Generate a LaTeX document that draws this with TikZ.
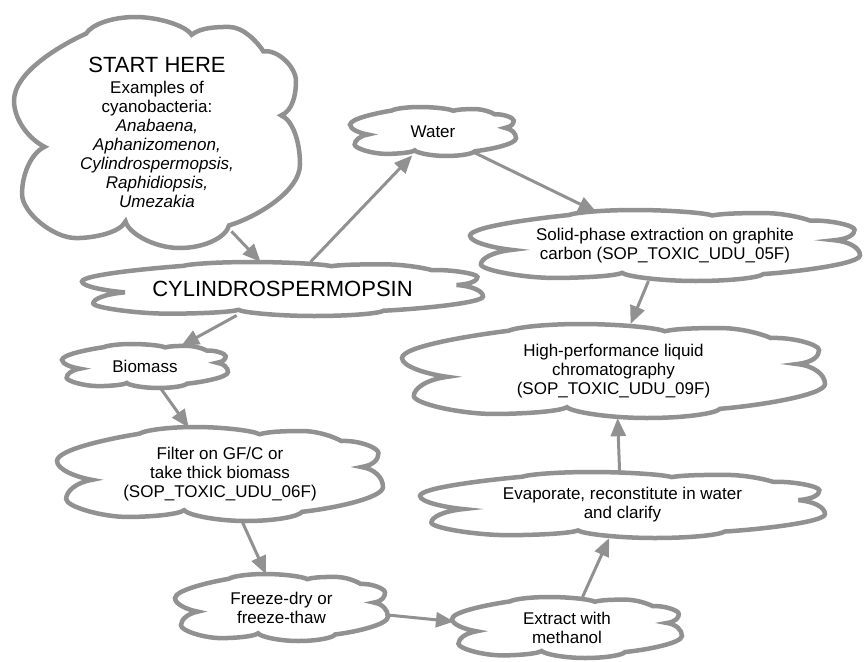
\documentclass[tikz,border=0pt]{standalone}
\usepackage{fontspec}
\setmainfont{Liberation Sans}
\usetikzlibrary{shapes.geometric,arrows.meta}
\definecolor{outline}{RGB}{145,145,145}

% Seven-puff cloud outline in a 100 x 100 box (y pointing down),
% drawn clockwise from the notch on the left side
\newcommand\cloudoutline{(10.7,56.2)
  .. controls (5.7,53.2) and (0,45) .. (0,36.2)
  .. controls (0,24) and (16.2,12.2) .. (25.2,7.2)
  .. controls (27.2,3.2) and (34.4,0) .. (42.4,0)
  .. controls (50.4,0) and (60.1,3.7) .. (62.1,7.7)
  .. controls (65.1,4.7) and (70.2,4.3) .. (75.2,4.3)
  .. controls (80.2,4.3) and (85.2,10.9) .. (87.2,14.9)
  .. controls (92.2,13.9) and (98.6,21.7) .. (98.6,27.7)
  .. controls (98.6,33.7) and (97.4,40.6) .. (93.4,42.6)
  .. controls (97.4,44.6) and (100,53.8) .. (100,63.8)
  .. controls (100,75.8) and (84,87) .. (75.2,90.2)
  .. controls (74.2,95.2) and (66.9,100) .. (57.9,100)
  .. controls (48.9,100) and (40,93.5) .. (39,88.5)
  .. controls (37,93.5) and (27.7,95.7) .. (21.7,95.7)
  .. controls (13.7,95.7) and (2.8,84.6) .. (2.8,76.6)
  .. controls (2.8,68.6) and (5.7,59.2) .. (10.7,56.2) -- cycle}

% \cloudnode{name}{left}{top}{width}{height}{text}: the outline stretched
% to the box, and an invisible elliptic node carrying text and anchors
\newcommand\cloudnode[6]{%
  \draw[cloudline, shift={({#2+2},{#3+2})}, xscale={(#4-4)/100},
    yscale={(#5-4)/100}] \cloudoutline;
  \pgfmathsetmacro\cbw{#4-4}%
  \pgfmathsetmacro\cbh{#5-4}%
  \node[textbox, minimum width=\cbw pt, minimum height=\cbh pt]
    (#1) at ({#2+#4/2},{#3+#5/2}) {#6};
}

\begin{document}
\begin{tikzpicture}[x=1pt,y=-1pt,
  cloudline/.style={draw=outline, line width=4.5pt, fill=white},
  textbox/.style={ellipse, inner sep=0pt, align=center,
    font=\fontsize{17}{19}\selectfont},
  link/.style={draw=outline, line width=3pt,
    -{Triangle[length=18pt,width=15pt]}}]
\useasboundingbox (0,0) rectangle (864,661);

% steps of the procedure
\cloudnode{start}{12}{15}{290}{235}
  {{\fontsize{22}{22}\selectfont START HERE}\\[2pt]
   Examples of\\cyanobacteria:\\\textit{Anabaena,}\\\textit{Aphanizomenon,}\\
   \textit{Cylindrospermopsis,}\\\textit{Raphidiopsis,}\\\textit{Umezakia}}
\cloudnode{cyl}{80}{260}{405}{58}
  {\fontsize{22}{22}\selectfont CYLINDROSPERMOPSIN}
\cloudnode{water}{348}{105}{170}{53}{Water}
\cloudnode{spe}{468}{208}{394}{75}
  {Solid-phase extraction on graphite\\carbon (SOP\_TOXIC\_UDU\_05F)}
\cloudnode{hplc}{400}{322}{427}{98}
  {High-performance liquid\\chromatography\\(SOP\_TOXIC\_UDU\_09F)}
\cloudnode{evap}{418}{470}{409}{70}
  {Evaporate, reconstitute in water\\and clarify}
\cloudnode{bio}{60}{342}{170}{48}{Biomass}
\cloudnode{filter}{55}{425}{330}{98}
  {Filter on GF/C or\\take thick biomass\\(SOP\_TOXIC\_UDU\_06F)}
\cloudnode{freeze}{173}{572}{217}{71}
  {Freeze-dry or\\freeze-thaw}
\cloudnode{extract}{450}{595}{234}{65}
  {Extract with\\methanol}

% connectors
\draw[link] (start.-53) -- (cyl.129);
\draw[link] (cyl.44) -- (water.-131);
\draw[link] (water.-27) -- (spe.154);
\draw[link] (spe.-115) -- (hplc.70);
\draw[link] (cyl.-150) -- (bio.29);
\draw[link] (bio.-55) -- (filter.124);
\draw[link] (filter.-65) -- (freeze.115);
\draw[link] (freeze.-4) -- (extract.177);
\draw[link] (extract.63) -- (evap.-112);
\draw[link] (evap.95) -- (hplc.-85);
\end{tikzpicture}
\end{document}
